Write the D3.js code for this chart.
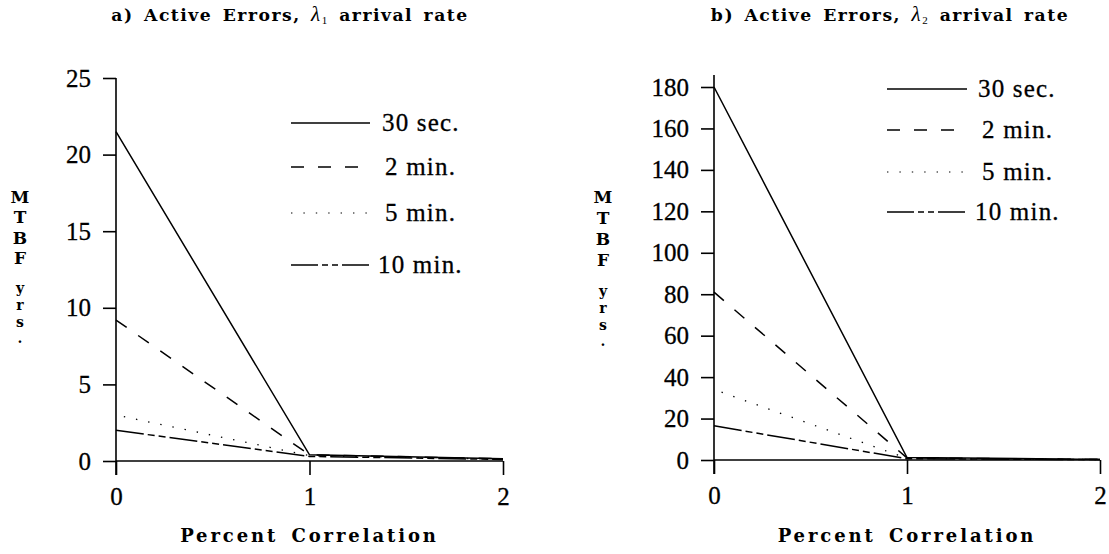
<!DOCTYPE html>
<html>
<head>
<meta charset="utf-8">
<script src="https://cdn.jsdelivr.net/npm/d3@7"></script>
<style>
  html, body { margin: 0; padding: 0; background: #fff; }
  svg { display: block; }
</style>
</head>
<body>
<svg id="chart" width="1109" height="554"></svg>
<script>
// ── Data ──────────────────────────────────────────────────────────────────
const xVals = [0, 1, 2];
const seriesNames = ['30 sec.', '2 min.', '5 min.', '10 min.'];

// panel a) lambda 1
const aTicks = [0, 5, 10, 15, 20, 25];
const a30s  = [21.5, 0.4, 0.15];
const a2m   = [9.2, 0.4, 0.15];
const a5m   = [3.0, 0.35, 0.12];
const a10m  = [2.0, 0.3, 0.1];

// panel b) lambda 2
const bTicks = [0, 20, 40, 60, 80, 100, 120, 140, 160, 180];
const b30s  = [180, 1.2, 0.3];
const b2m   = [81, 1.0, 0.3];
const b5m   = [34, 0.8, 0.2];
const b10m  = [16.5, 0.6, 0.2];

// ── Styles ────────────────────────────────────────────────────────────────
const dashes = [null, '13,14', '1.4,11', '28,4,7,4,7,4'];
const serif = '"Liberation Serif", "DejaVu Serif", serif';
const boldSerif = '"DejaVu Serif", "Liberation Serif", serif';

const svg = d3.select('#chart');

function panel(cfg) {
  const g = svg.append('g');
  const x = d3.scaleLinear().domain([0, 2]).range(cfg.xr);
  const y = d3.scaleLinear().domain([0, cfg.ymax]).range(cfg.yr);

  // title
  const t = g.append('text')
    .attr('x', cfg.titleX).attr('y', 21)
    .attr('text-anchor', 'middle')
    .attr('font-family', boldSerif).attr('font-weight', 'bold').attr('font-size', '17.2px')
    .attr('letter-spacing', '1.5px').attr('word-spacing', '3px');
  t.append('tspan').text(cfg.prefix + ' Active Errors, ');
  t.append('tspan').attr('font-style', 'italic').attr('font-weight', 'normal').attr('font-family', serif).attr('font-size', '21px').text('λ');
  t.append('tspan').attr('font-size', '11px').attr('font-weight', 'normal').attr('font-family', serif).attr('dy', 3).text(cfg.sub);
  t.append('tspan').attr('dy', -3).text(' arrival rate');

  // y axis
  const yAxis = d3.axisLeft(y).tickValues(cfg.ticks).tickSize(13).tickPadding(12).tickFormat(d3.format('d'));
  const ya = g.append('g').attr('transform', `translate(${cfg.xr[0]},0)`).call(yAxis);
  ya.select('.domain').remove();
  ya.append('line').attr('x1', 0).attr('x2', 0).attr('y1', cfg.axisTop).attr('y2', cfg.yr[0] + 14)
    .attr('stroke', '#000').attr('stroke-width', 1.6);

  // x axis
  const xAxis = d3.axisBottom(x).tickValues(xVals).tickSize(14).tickPadding(12).tickFormat(d3.format('d'));
  const xa = g.append('g').attr('transform', `translate(0,${cfg.yr[0]})`).call(xAxis);
  xa.select('.domain').remove();
  xa.append('line').attr('x1', cfg.xr[0]).attr('x2', cfg.xr[1]).attr('y1', 0).attr('y2', 0)
    .attr('stroke', '#000').attr('stroke-width', 1.6);

  [ya, xa].forEach(a => {
    a.selectAll('.tick line').attr('stroke', '#000').attr('stroke-width', 1.6);
    a.selectAll('.tick text').attr('font-family', serif).attr('font-size', '25px').attr('fill', '#000')
      .attr('stroke', '#000').attr('stroke-width', 0.3);
  });

  // lines
  const line = d3.line().x((d, i) => x(xVals[i])).y(d => y(d));
  cfg.series.forEach((s, i) => {
    g.append('path').datum(s)
      .attr('d', line)
      .attr('fill', 'none').attr('stroke', '#000')
      .attr('stroke-width', i === 2 ? 1.3 : 1.5)
      .attr('stroke-dasharray', dashes[i])
      .attr('stroke-dashoffset', i === 2 ? -8 : 0);
  });

  // legend
  seriesNames.forEach((n, i) => {
    const ly = cfg.legY[i];
    g.append('line')
      .attr('x1', cfg.legX[0]).attr('x2', cfg.legX[1]).attr('y1', ly).attr('y2', ly)
      .attr('stroke', '#000').attr('stroke-width', i === 2 ? 1.2 : 1.5)
      .attr('stroke-dasharray', i === 3 ? '27,4,6,4,6,4' : dashes[i]);
    g.append('text')
      .attr('x', cfg.legX[1] + cfg.legPad[i]).attr('y', ly + 8)
      .attr('font-family', serif).attr('font-size', '25px')
      .attr('letter-spacing', '1.2px')
      .attr('stroke', '#000').attr('stroke-width', 0.3)
      .text(n);
  });

  // y label, stacked letters
  const letters = ['M', 'T', 'B', 'F', 'y', 'r', 's', '.'];
  letters.forEach((c, i) => {
    g.append('text')
      .attr('x', cfg.ylabX).attr('y', cfg.ylabY[i])
      .attr('text-anchor', 'middle')
      .attr('font-family', boldSerif).attr('font-weight', 'bold')
      .attr('font-size', i < 4 ? '17px' : '14px')
      .text(c);
  });

  // x label
  g.append('text')
    .attr('x', (cfg.xr[0] + cfg.xr[1]) / 2).attr('y', 542)
    .attr('text-anchor', 'middle')
    .attr('font-family', boldSerif).attr('font-weight', 'bold').attr('font-size', '18px')
    .attr('letter-spacing', '2.9px').attr('word-spacing', '4px')
    .text('Percent Correlation');
}

panel({
  prefix: 'a)', sub: '1', titleX: 290,
  xr: [116, 503], yr: [461, 78], ymax: 25, ticks: aTicks, axisTop: 78,
  series: [a30s, a2m, a5m, a10m],
  legX: [291, 370], legY: [123, 167, 213, 265], legPad: [12, 15, 15, 8],
  ylabX: 20, ylabY: [203, 223, 244, 264, 293, 310, 327, 343]
});

panel({
  prefix: 'b)', sub: '2', titleX: 890,
  xr: [714, 1100], yr: [460, 87], ymax: 180, ticks: bTicks, axisTop: 75,
  series: [b30s, b2m, b5m, b10m],
  legX: [887, 967], legY: [89, 130, 172, 212], legPad: [11, 15, 15, 8],
  ylabX: 603, ylabY: [203, 224, 245, 266, 296, 313, 330, 346]
});
</script>
</body>
</html>
